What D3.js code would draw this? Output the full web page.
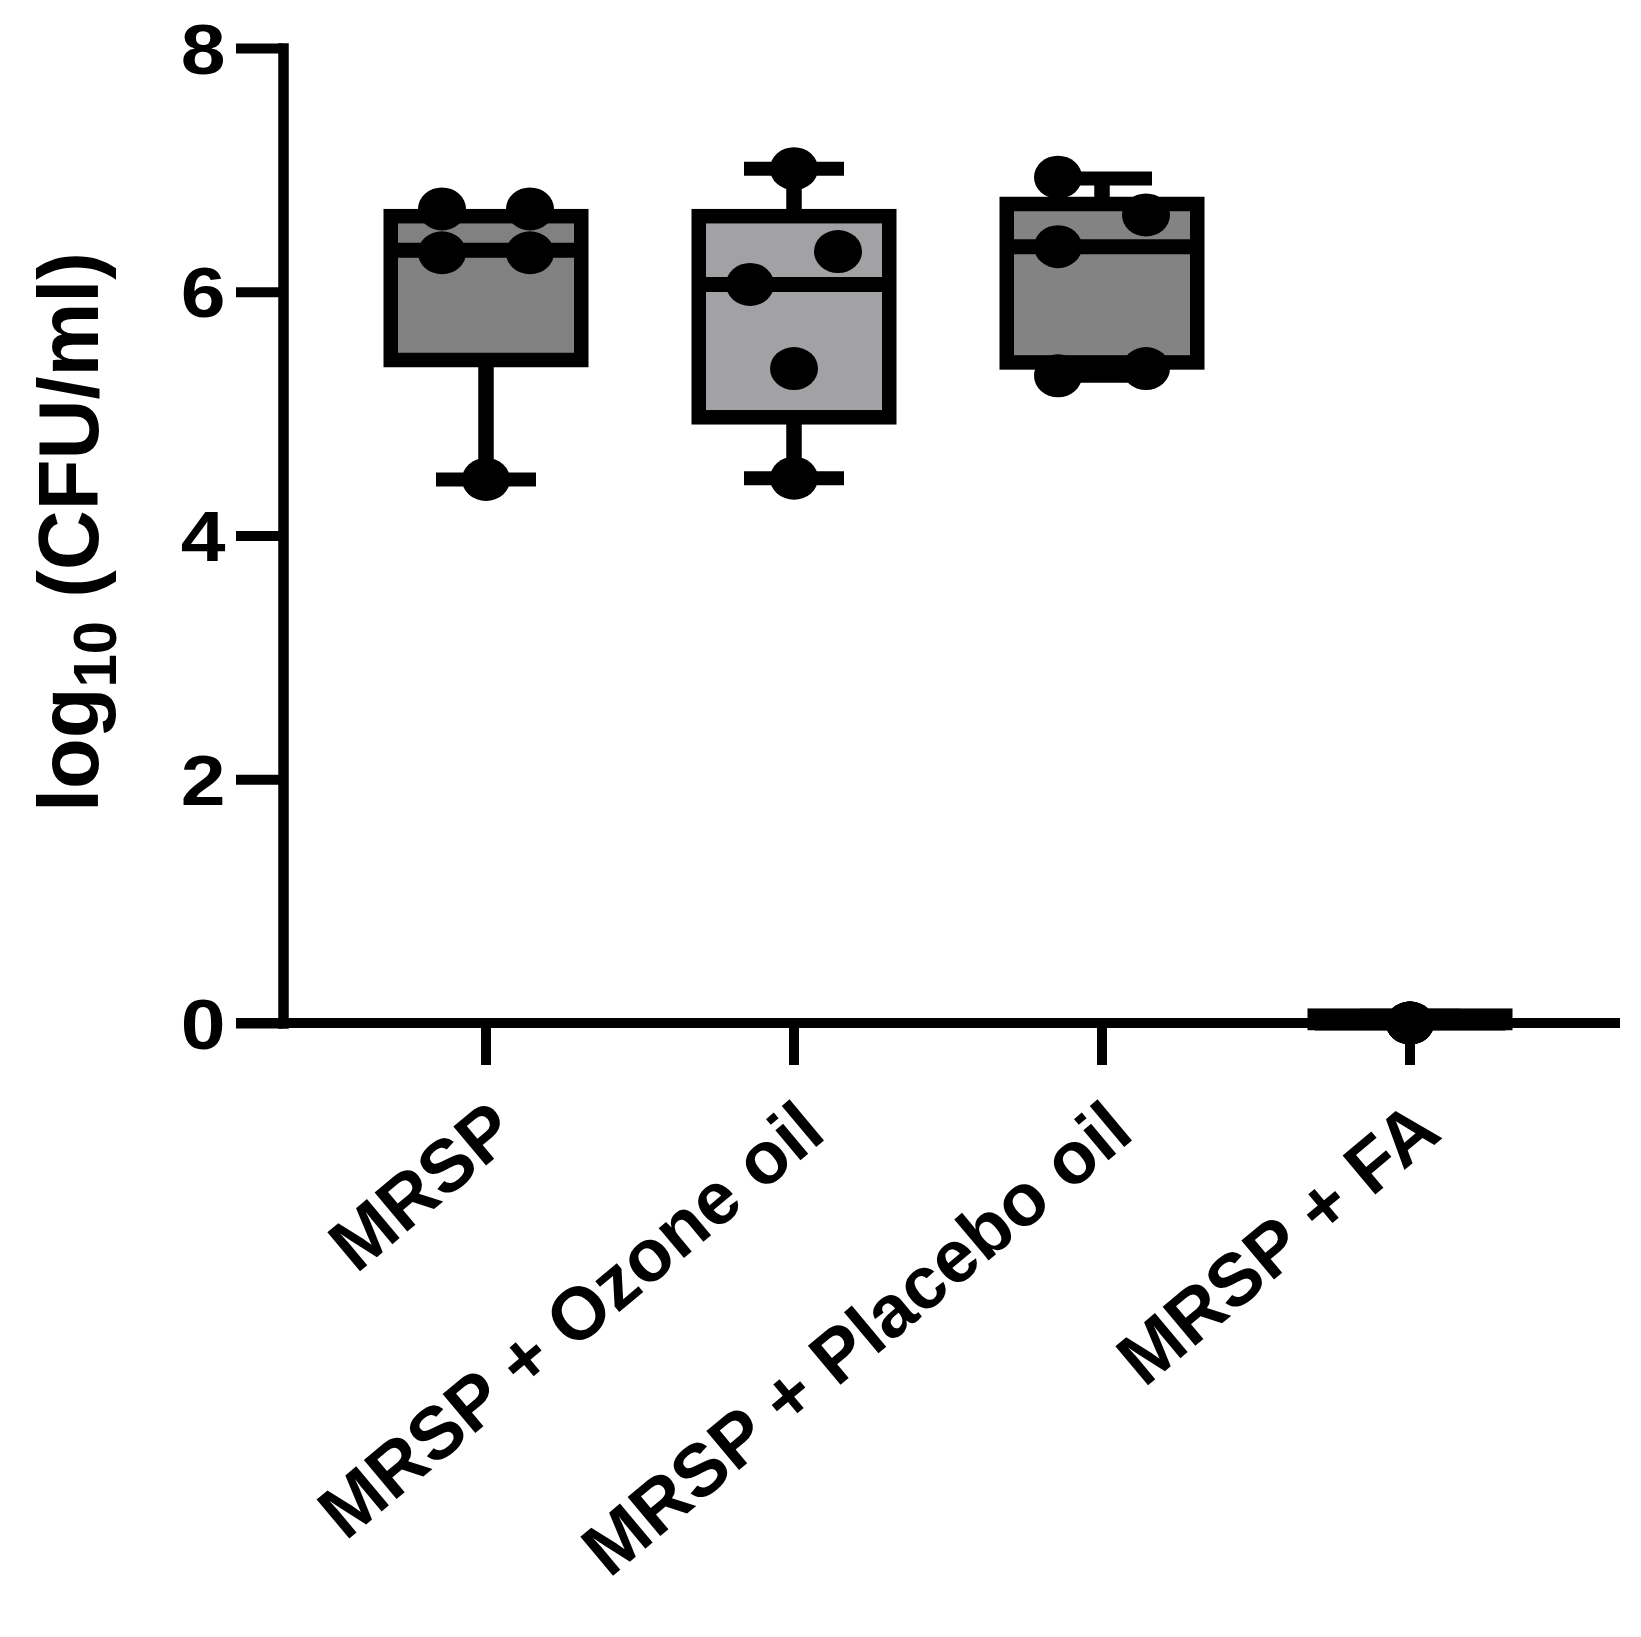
<!DOCTYPE html>
<html lang="en">
<head>
<meta charset="UTF-8" />
<title>log10 CFU/ml box plot</title>
<style>
  body { margin: 0; background: #fff; }
  svg text { font-family: "Liberation Sans", Arial, sans-serif; font-weight: bold; fill: #000; }
</style>
<script src="https://cdn.jsdelivr.net/npm/d3@7"></script>
</head>
<body>
<div id="chart"></div>
<script>
const categories = ["MRSP", "MRSP + Ozone oil", "MRSP + Placebo oil", "MRSP + FA"];
const yTicks = [0, 2, 4, 6, 8];

// box statistics (whiskers = min to max)
const boxMin = [4.46, 4.47, 5.31, 0];
const boxQ1 = [5.44, 4.97, 5.42, 0];
const boxMedian = [6.34, 6.06, 6.37, 0];
const boxQ3 = [6.62, 6.62, 6.72, 0.06];
const boxMax = [6.62, 7.01, 6.93, 0.06];

// individual points per group
const pointsMRSP = [6.68, 6.68, 6.32, 6.32, 4.46];
const pointsOzone = [7.01, 6.33, 6.06, 5.37, 4.47];
const pointsPlacebo = [6.94, 6.63, 6.37, 5.31, 5.37];
const pointsFA = [0, 0, 0, 0, 0];
// column of each point inside its group (-1 left, 0 centre, 1 right)
const slotsMRSP = [-1, 1, -1, 1, 0];
const slotsOzone = [0, 1, -1, 0, 0];
const slotsPlacebo = [-1, 1, -1, -1, 1];
const slotsFA = [0, 0, 0, 0, 0];

const boxFills = ["#818181", "#a2a2a5", "#838383", "#818181"];

const W = 1641, H = 1637;
const axisX = 283;

const svg = d3.select("#chart").append("svg")
  .attr("width", W).attr("height", H)
  .style("background", "#fff");

const x = d3.scaleBand().domain(categories).range([332, 1564]);
const y = d3.scaleLinear().domain([0, 8]).range([1023, 48]);
const cx = (c) => x(c) + x.bandwidth() / 2;

// y axis
const yAxis = svg.append("g")
  .attr("transform", "translate(" + axisX + ",0)")
  .call(d3.axisLeft(y).tickValues(yTicks).tickSize(47).tickSizeOuter(0).tickPadding(0));
yAxis.select(".domain").attr("stroke-width", 10.5).attr("stroke-linecap", "square");
yAxis.selectAll(".tick line").attr("stroke-width", 10);
yAxis.selectAll(".tick text")
  .attr("x", -50).attr("dy", null).attr("y", 25)
  .attr("font-size", 70)
  .attr("text-anchor", "end")
  .attr("transform", "scale(1.15,1)");

// x axis
const xAxis = svg.append("g")
  .attr("transform", "translate(0," + y(0) + ")")
  .call(d3.axisBottom(x).tickSize(42).tickSizeOuter(0).tickPadding(0));
xAxis.select(".domain").remove();
xAxis.selectAll(".tick line").attr("stroke-width", 10);
xAxis.selectAll(".tick text")
  .attr("y", null).attr("dy", null)
  .attr("font-size", 74)
  .attr("text-anchor", "end")
  .attr("transform", "translate(34,114) rotate(-40)");
xAxis.append("line")
  .attr("x1", 236).attr("x2", 1620)
  .attr("y1", 0).attr("y2", 0)
  .attr("stroke", "#000").attr("stroke-width", 10);

// y axis title
const yTitle = svg.append("text")
  .attr("transform", "translate(98,532) rotate(-90)")
  .attr("text-anchor", "middle")
  .attr("font-size", 86)
  .attr("textLength", 560)
  .attr("lengthAdjust", "spacingAndGlyphs");
yTitle.append("tspan").text("log");
yTitle.append("tspan").attr("font-size", 62).attr("dy", 18).text("10");
yTitle.append("tspan").attr("dy", -18).text(" (CFU/ml)");

// boxes
const boxes = categories.map((c, i) => ({
  c, min: boxMin[i], q1: boxQ1[i], med: boxMedian[i], q3: boxQ3[i], max: boxMax[i], fill: boxFills[i]
}));
const halfBox = 95.25, halfCap = 50;
const g = svg.append("g");

g.selectAll(".whisker")
  .data(boxes.flatMap(b => [[b, b.q3, b.max], [b, b.q1, b.min]]))
  .join("line")
  .attr("x1", d => cx(d[0].c)).attr("x2", d => cx(d[0].c))
  .attr("y1", d => y(d[1])).attr("y2", d => y(d[2]))
  .attr("stroke", "#000").attr("stroke-width", 15.5);

g.selectAll(".cap")
  .data(boxes.flatMap(b => [[b, b.max], [b, b.min]]))
  .join("line")
  .attr("x1", d => cx(d[0].c) - halfCap).attr("x2", d => cx(d[0].c) + halfCap)
  .attr("y1", d => y(d[1])).attr("y2", d => y(d[1]))
  .attr("stroke", "#000").attr("stroke-width", 14);

g.selectAll(".box")
  .data(boxes)
  .join("rect")
  .attr("x", d => cx(d.c) - halfBox)
  .attr("width", halfBox * 2)
  .attr("y", d => y(d.q3))
  .attr("height", d => y(d.q1) - y(d.q3))
  .attr("fill", d => d.fill)
  .attr("stroke", "#000").attr("stroke-width", 14.5);

g.selectAll(".median")
  .data(boxes)
  .join("line")
  .attr("x1", d => cx(d.c) - halfBox).attr("x2", d => cx(d.c) + halfBox)
  .attr("y1", d => y(d.med)).attr("y2", d => y(d.med))
  .attr("stroke", "#000").attr("stroke-width", 15);

// points
const pointSets = [pointsMRSP, pointsOzone, pointsPlacebo, pointsFA];
const slotSets = [slotsMRSP, slotsOzone, slotsPlacebo, slotsFA];
const points = categories.flatMap((c, i) =>
  pointSets[i].map((v, j) => ({ c, v, slot: slotSets[i][j] })));
const slotStep = 44;

g.selectAll(".pt")
  .data(points)
  .join("ellipse")
  .attr("cx", d => cx(d.c) + d.slot * slotStep)
  .attr("cy", d => y(d.v))
  .attr("rx", 24).attr("ry", 21.5)
  .attr("fill", "#000");
</script>
</body>
</html>
